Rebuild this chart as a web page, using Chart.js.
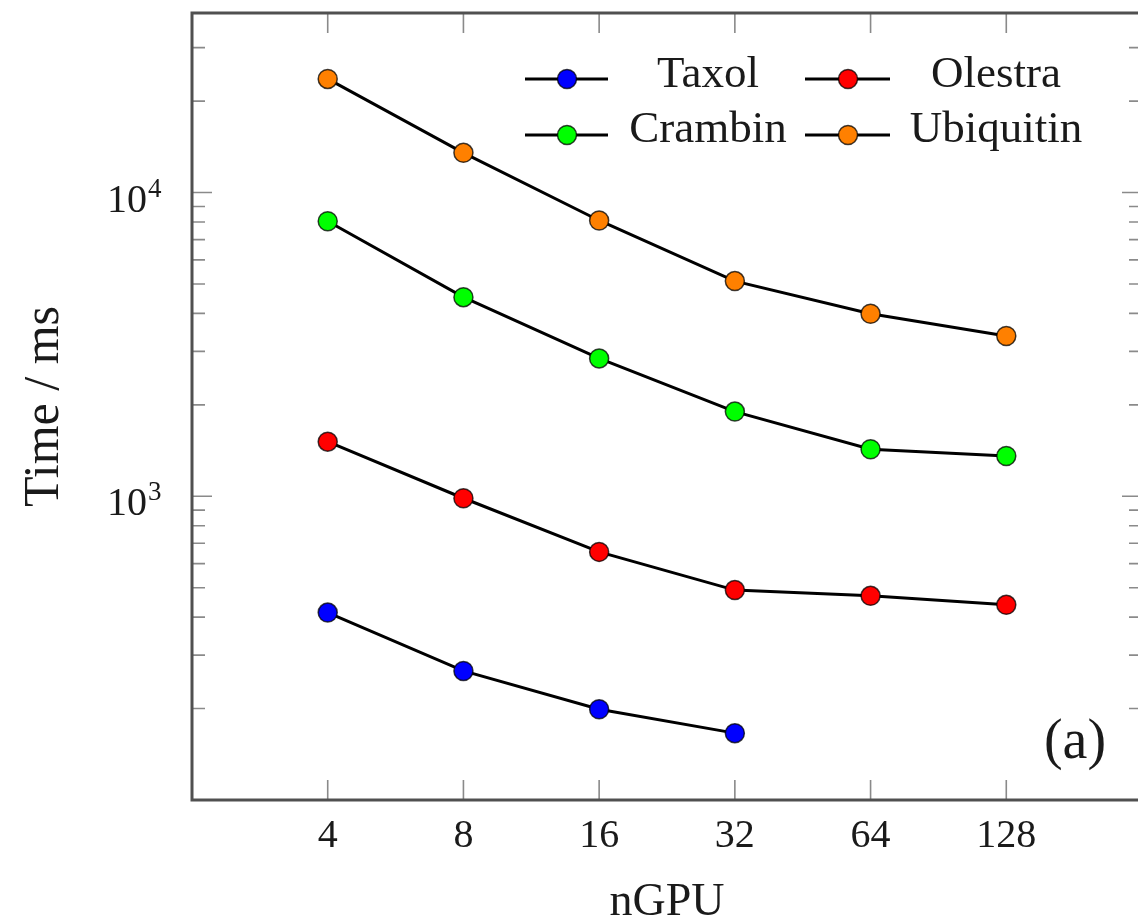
<!DOCTYPE html>
<html><head><meta charset="utf-8">
<script src="https://cdn.jsdelivr.net/npm/chart.js@4/dist/chart.umd.min.js"></script>
<style>
html,body{margin:0;padding:0;background:#fff;overflow:hidden}
#wrap{position:absolute;left:0;top:0;width:1153px;height:919px}
#c{display:block;width:1153px;height:919px}
</style>
</head><body><div id="wrap"><canvas id="c" width="1153" height="919"></canvas></div>
<script>
// ---- data ----
const nGPU = [4, 8, 16, 32, 64, 128];
const taxol = [414, 266, 199, 166];
const olestra = [1513, 985, 656, 491, 470, 439];
const crambin = [8045, 4524, 2844, 1900, 1428, 1357];
const ubiquitin = [23660, 13510, 8090, 5110, 3990, 3370];
const seriesNames = ['Taxol', 'Olestra', 'Crambin', 'Ubiquitin'];
const seriesColors = ['#0000ff', '#ff0000', '#00ff00', '#ff8000'];
const yMajorTicks = [1000, 10000];
const yTickBase = '10';
const yTickExponents = ['3', '4'];
const yMinorTicks = [200, 300, 400, 500, 600, 700, 800, 900, 2000, 3000, 4000, 5000, 6000, 7000, 8000, 9000, 20000, 30000];
const xTitle = 'nGPU';
const yTitle = 'Time / ms';
const panelLabel = '(a)';

const FONT = "'Liberation Serif', 'Times New Roman', serif";
const TEXT = '#1a1a1a';
const seriesValues = [taxol, olestra, crambin, ubiquitin];

const datasets = seriesNames.map((name, i) => ({
  label: name,
  data: seriesValues[i].map((v, j) => ({x: nGPU[j], y: v})),
  borderColor: '#000',
  borderWidth: 3,
  backgroundColor: seriesColors[i],
  pointBackgroundColor: seriesColors[i],
  pointBorderColor: 'rgba(0,0,0,0.75)',
  pointBorderWidth: 1.5,
  pointRadius: 9.5,
  tension: 0
}));

const framePlugin = {
  id: 'frame',
  afterDraw(chart) {
    const {ctx, chartArea: a, scales: {x, y}} = chart;
    ctx.save();
    // ticks
    ctx.strokeStyle = '#8a8a8a';
    ctx.lineWidth = 1.6;
    ctx.beginPath();
    nGPU.forEach(v => {
      const px = x.getPixelForValue(v);
      ctx.moveTo(px, a.bottom); ctx.lineTo(px, a.bottom - 20);
      ctx.moveTo(px, a.top); ctx.lineTo(px, a.top + 20);
    });
    yMajorTicks.forEach(v => {
      const py = y.getPixelForValue(v);
      ctx.moveTo(a.left, py); ctx.lineTo(a.left + 20, py);
      ctx.moveTo(a.right, py); ctx.lineTo(a.right - 20, py);
    });
    yMinorTicks.forEach(v => {
      const py = y.getPixelForValue(v);
      ctx.moveTo(a.left, py); ctx.lineTo(a.left + 13, py);
      ctx.moveTo(a.right, py); ctx.lineTo(a.right - 13, py);
    });
    ctx.stroke();
    // frame
    ctx.strokeStyle = '#505050';
    ctx.lineWidth = 3;
    ctx.strokeRect(a.left, a.top, a.right - a.left, a.bottom - a.top);

    // y tick labels with superscript exponents
    ctx.fillStyle = TEXT;
    ctx.textBaseline = 'alphabetic';
    yMajorTicks.forEach((v, k) => {
      const py = y.getPixelForValue(v);
      ctx.font = '40px ' + FONT;
      ctx.textAlign = 'right';
      ctx.fillText(yTickBase, a.left - 45, py + 19);
      ctx.font = '27px ' + FONT;
      ctx.textAlign = 'left';
      ctx.fillText(yTickExponents[k], a.left - 44, py + 4);
    });

    // legend
    const cols = [{l1: 525, l2: 608, m: 567, t: 708}, {l1: 805, l2: 890, m: 848, t: 996}];
    const rows = [{y: 79, b: 87}, {y: 135, b: 142}];
    ctx.font = '45px ' + FONT;
    ctx.textAlign = 'center';
    chart.data.datasets.forEach((ds, i) => {
      const c = cols[i % 2], r = rows[Math.floor(i / 2)];
      ctx.strokeStyle = '#000';
      ctx.lineWidth = 3;
      ctx.beginPath();
      ctx.moveTo(c.l1, r.y); ctx.lineTo(c.l2, r.y);
      ctx.stroke();
      ctx.beginPath();
      ctx.arc(c.m, r.y, 9.5, 0, Math.PI * 2);
      ctx.fillStyle = ds.pointBackgroundColor;
      ctx.fill();
      ctx.strokeStyle = 'rgba(0,0,0,0.75)';
      ctx.lineWidth = 1.5;
      ctx.stroke();
      ctx.fillStyle = TEXT;
      ctx.fillText(ds.label, c.t, r.b);
    });
    // panel label
    ctx.font = '56px ' + FONT;
    ctx.fillStyle = TEXT;
    ctx.fillText(panelLabel, 1075, 758);
    ctx.restore();
  }
};

const noPad = s => { s.paddingTop = 0; s.paddingBottom = 0; s.paddingLeft = 0; s.paddingRight = 0; };

new Chart(document.getElementById('c'), {
  type: 'line',
  data: {datasets},
  options: {
    responsive: false,
    animation: false,
    layout: {padding: {left: 0, top: 13, right: 4, bottom: 0}},
    plugins: {legend: {display: false}, tooltip: {enabled: false}},
    scales: {
      x: {
        type: 'logarithmic',
        min: 2, max: 256,
        afterBuildTicks: s => { s.ticks = nGPU.map(v => ({value: v})); },
        afterFit: s => { s.height = 119; noPad(s); },
        grid: {display: false, drawTicks: false},
        border: {display: false},
        ticks: {
          autoSkip: false, maxRotation: 0, padding: 12,
          color: TEXT, font: {family: FONT, size: 40},
          callback: v => String(v)
        },
        title: {display: true, text: xTitle, color: TEXT, font: {family: FONT, size: 46, lineHeight: 0.7}, padding: 0}
      },
      y: {
        type: 'logarithmic',
        min: 100, max: 39000,
        afterBuildTicks: s => {
          s.ticks = yMinorTicks.concat(yMajorTicks).sort((a, b) => a - b).map(v => ({value: v}));
        },
        afterFit: s => { s.width = 192; noPad(s); },
        grid: {display: false, drawTicks: false},
        border: {display: false},
        ticks: {display: false, autoSkip: false},
        title: {display: true, text: yTitle, color: TEXT, font: {family: FONT, size: 50, lineHeight: 1.2}, padding: {top: 15, bottom: 0}}
      }
    }
  },
  plugins: [framePlugin]
});
</script>
</body></html>
